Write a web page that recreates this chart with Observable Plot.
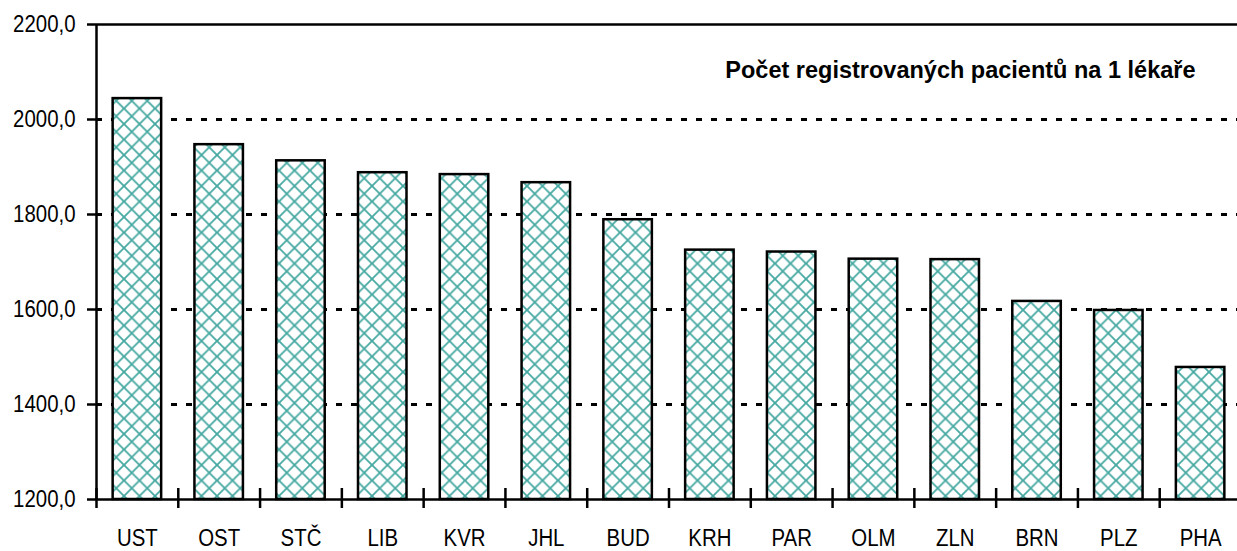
<!DOCTYPE html>
<html>
<head>
<meta charset="utf-8">
<script src="https://cdn.jsdelivr.net/npm/d3@7"></script>
<script src="https://cdn.jsdelivr.net/npm/@observablehq/plot@0.6"></script>
<style>
  html, body { margin: 0; padding: 0; background: #fff; }
  #chart svg { display: block; }
</style>
</head>
<body>
<div id="chart"></div>
<script>
const categories = ["UST", "OST", "STČ", "LIB", "KVR", "JHL", "BUD", "KRH", "PAR", "OLM", "ZLN", "BRN", "PLZ", "PHA"];
const values = [2044, 1947, 1913, 1888, 1884, 1867, 1789, 1725, 1721, 1706, 1705, 1617, 1598, 1478];
const yTicks = [1200, 1400, 1600, 1800, 2000, 2200];
const gridTicks = [1400, 1600, 1800, 2000];
const title = "Počet registrovaných pacientů na 1 lékaře";

const data = categories.map((c, i) => ({cat: c, value: values[i]}));

const W = 1237, H = 551;
const mLeft = 96, mRight = -4, mTop = 24, mBottom = 52;
const bw = (W - mRight - mLeft) / categories.length;
const barInset = (bw - 48.5) / 2;
const font = "'Liberation Sans', Arial, sans-serif";

const chart = Plot.plot({
  width: W,
  height: H,
  marginLeft: mLeft,
  marginRight: mRight,
  marginTop: mTop,
  marginBottom: mBottom,
  style: {fontFamily: font, fontSize: "24px", color: "#000", background: "#fff"},
  x: {domain: categories, padding: 0, round: false, label: null},
  y: {domain: [1200, 2200], label: null},
  marks: [
    Plot.ruleY(gridTicks, {stroke: "#000", strokeWidth: 3, strokeDasharray: "6,9"}),
    Plot.ruleY([2200], {stroke: "#000", strokeWidth: 2.5}),
    Plot.barY(data, {x: "cat", y1: 1200, y2: "value", fill: "url(#hatch)", stroke: "#000", strokeWidth: 2.5, insetLeft: barInset, insetRight: barInset}),
    Plot.ruleY([1200], {stroke: "#000", strokeWidth: 2.5}),
    Plot.ruleX([categories[0]], {x: d => d, y1: 1200, y2: 2200, dx: -bw / 2, stroke: "#000", strokeWidth: 2.5}),
    Plot.ruleX(categories, {x: d => d, y1: 1200, y2: 1200, insetTop: -11, insetBottom: -9, dx: -bw / 2, stroke: "#000", strokeWidth: 2.5}),
    Plot.axisY({ticks: yTicks, tickSize: 9, tickPadding: 12, tickFormat: d => d3.format(".1f")(d).replace(".", ","), fontSize: 24, strokeWidth: 2.5}),
    Plot.axisX({tickSize: 0, tickPadding: 29, fontSize: 24}),
    Plot.text([title], {frameAnchor: "top-right", lineAnchor: "top", text: d => d, dx: -46, dy: 37, fontWeight: "bold", fontSize: 23.5, textAnchor: "end"})
  ]
});

// narrow the axis labels horizontally (reference uses a condensed face)
chart.querySelectorAll("text").forEach(t => {
  if (t.textContent === title) return;
  const tr = t.getAttribute("transform") || "";
  t.setAttribute("transform", (tr + " scale(0.85,1)").trim());
});

const ns = "http://www.w3.org/2000/svg";
const defs = document.createElementNS(ns, "defs");
defs.innerHTML = `<pattern id="hatch" patternUnits="userSpaceOnUse" width="15.5" height="15.5">
  <rect width="15.5" height="15.5" fill="#fff"/>
  <path d="M0,0L15.5,15.5M15.5,0L0,15.5M-4,11.5L4,19.5M11.5,-4L19.5,4M-4,4L4,-4M11.5,19.5L19.5,11.5" stroke="#45a8a1" stroke-width="1.8" fill="none"/>
</pattern>`;
chart.insertBefore(defs, chart.firstChild);
document.getElementById("chart").appendChild(chart);
</script>
</body>
</html>
